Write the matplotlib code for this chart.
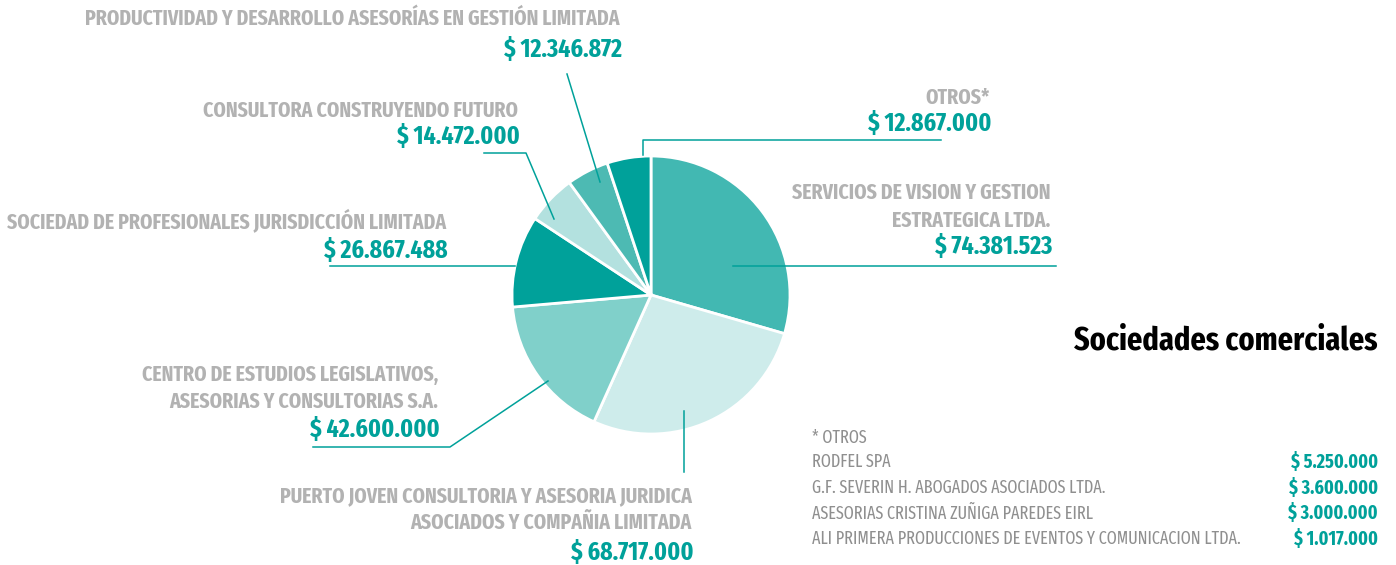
import matplotlib
matplotlib.use("Agg")
import matplotlib.pyplot as plt

# datos
empresas = [
    "SERVICIOS DE VISION Y GESTION\nESTRATEGICA LTDA.",
    "PUERTO JOVEN CONSULTORIA Y ASESORIA JURIDICA\nASOCIADOS Y COMPAÑIA LIMITADA",
    "CENTRO DE ESTUDIOS LEGISLATIVOS,\nASESORIAS Y CONSULTORIAS S.A.",
    "SOCIEDAD DE PROFESIONALES JURISDICCIÓN LIMITADA",
    "CONSULTORA CONSTRUYENDO FUTURO",
    "PRODUCTIVIDAD Y DESARROLLO ASESORÍAS EN GESTIÓN LIMITADA",
    "OTROS*",
]
montos = [74381523, 68717000, 42600000, 26867488, 14472000, 12346872, 12867000]
colores = ["#42b8b2", "#ceeceb", "#80d0ca", "#00a19a", "#b3e1df", "#4dbab3", "#00a19a"]

otros_nombres = [
    "RODFEL SPA",
    "G.F. SEVERIN H. ABOGADOS ASOCIADOS LTDA.",
    "ASESORIAS CRISTINA ZUÑIGA PAREDES EIRL",
    "ALI PRIMERA PRODUCCIONES DE EVENTOS Y COMUNICACION LTDA.",
]
otros_montos = [5250000, 3600000, 3000000, 1017000]

TEAL = "#00a19a"
GRIS = "#b2b2b2"
FAM = ["Fira Sans Extra Condensed", "DejaVu Sans"]


def fmt(v):
    return "$ " + f"{v:,}".replace(",", ".")


W, H = 1396, 565
fig = plt.figure(figsize=(W / 100, H / 100), dpi=100)
ax = fig.add_axes([0, 0, 1, 1])


def Y(y):
    return H - y


ax.pie(montos, colors=colores, startangle=90, counterclock=False,
       center=(651, Y(295)), radius=139, frame=True,
       wedgeprops=dict(edgecolor="white", linewidth=2))
ax.set_xlim(0, W)
ax.set_ylim(0, H)
ax.set_aspect("equal")
ax.axis("off")

# lineas guia
guias = [
    [(643, 155), (643, 140), (941, 140)],
    [(600, 182), (567, 74)],
    [(554, 219), (526, 153), (484, 153)],
    [(515, 266), (330, 266)],
    [(733, 266), (1056, 266)],
    [(548, 381), (450, 447), (313, 447)],
    [(684, 411), (684, 472)],
]
for g in guias:
    ax.plot([p[0] for p in g], [Y(p[1]) for p in g], color=TEAL, lw=1.1)

# etiquetas: (x derecha, y nombre, y monto)
pos = [
    (1050, [193, 221], 247),
    (692, [496, 523], 553),
    (438, [375, 402], 430),
    (446, [221], 251),
    (518, [111], 137),
    (620, [19], 50),
    (990, [98], 124),
]
fs_nom = 15.4
fs_val = 18.5
for nombre, monto, (xr, ys, yv) in zip(empresas, montos, pos):
    for linea, yy in zip(nombre.split("\n"), ys):
        ax.text(xr, Y(yy), linea, ha="right", va="center", color=GRIS,
                fontsize=fs_nom, fontweight="bold", family=FAM)
    ax.text(xr + 2, Y(yv), fmt(monto), ha="right", va="center", color=TEAL,
            fontsize=fs_val, fontweight="bold", family=FAM)

ax.text(1378, Y(341), "Sociedades comerciales", ha="right", va="center",
        color="black", fontsize=23.7, fontweight="bold", family=FAM)

# detalle de otros
ax.text(812, Y(438), "* OTROS", ha="left", va="center", color="#8f8f8f",
        fontsize=12.6, family=FAM)
for i, (n, v) in enumerate(zip(otros_nombres, otros_montos)):
    yy = 462 + i * 25.7
    ax.text(812, Y(yy), n, ha="left", va="center", color="#8f8f8f",
            fontsize=12.6, family=FAM)
    ax.text(1378, Y(yy), fmt(v), ha="right", va="center", color=TEAL,
            fontsize=14, fontweight="bold", family=FAM)

fig.savefig("out.png", dpi=100)
